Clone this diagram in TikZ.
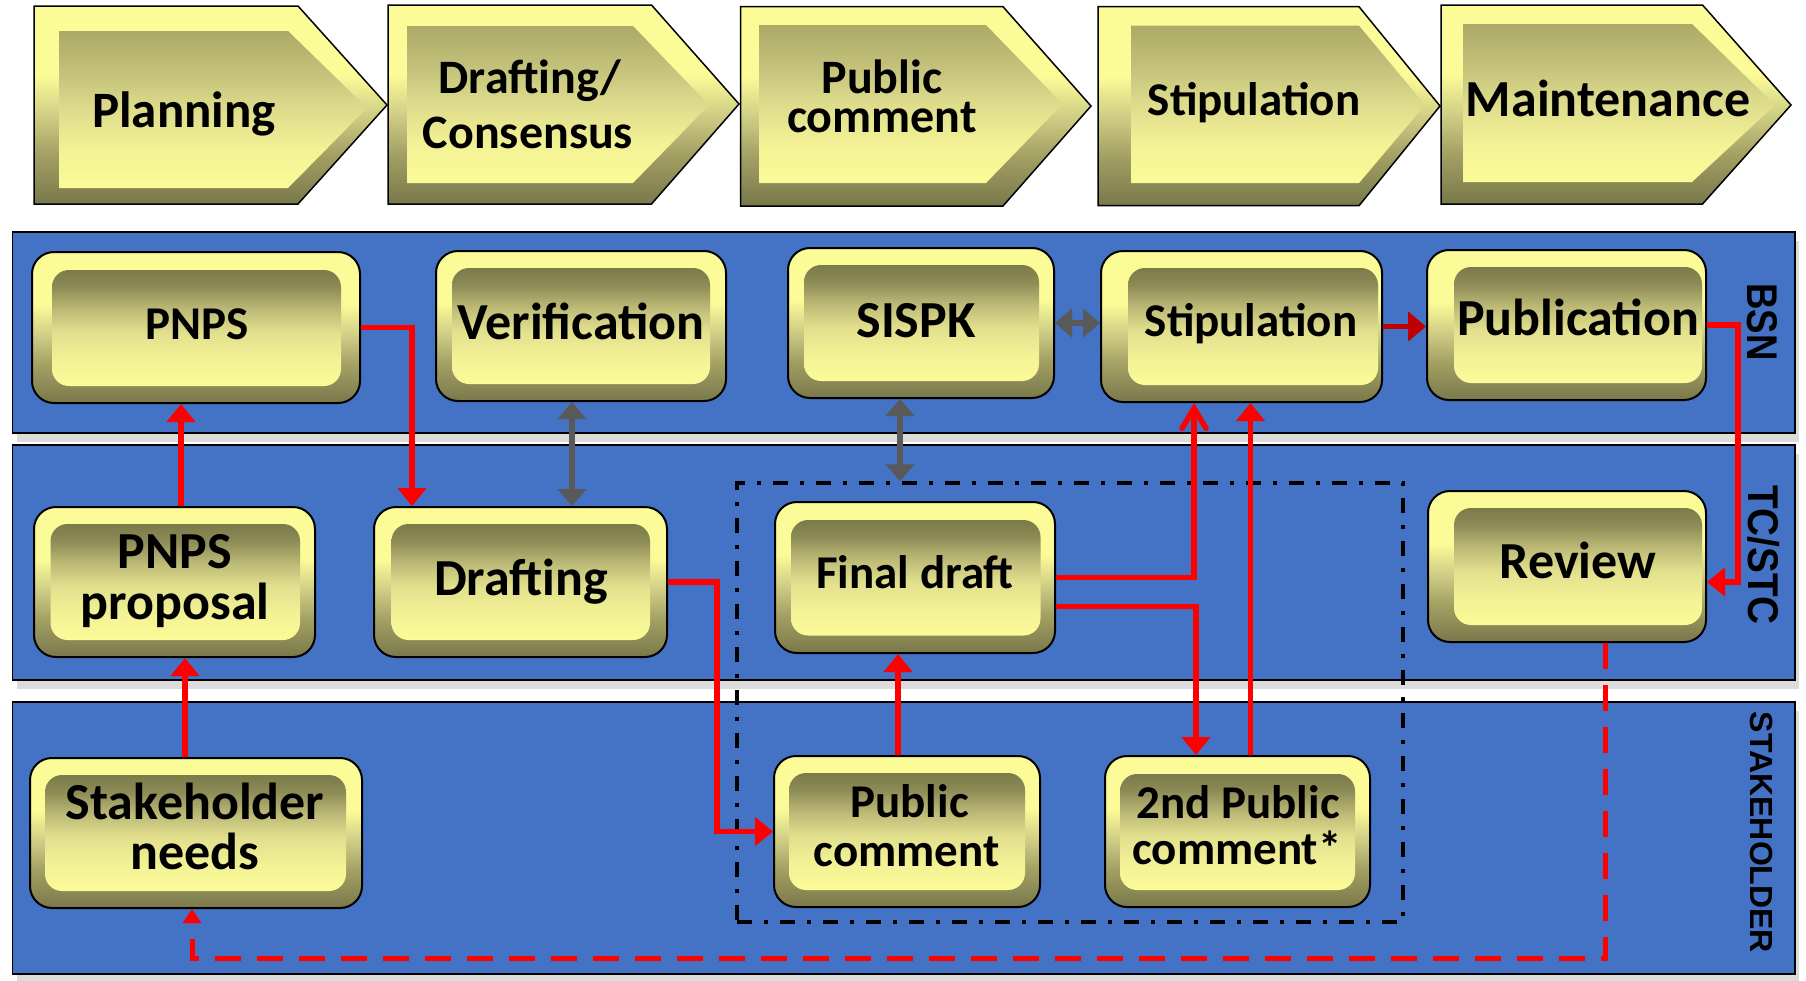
\documentclass[tikz,border=0pt]{standalone}
\usepackage{fontspec}
\setmainfont{Carlito}
\newfontfamily\lanefontA[FakeStretch=0.85]{Liberation Sans}
\newfontfamily\lanefontB[FakeStretch=0.9]{Liberation Sans}
\newfontfamily\lanefontC{Liberation Sans}
\usetikzlibrary{arrows.meta,calc}
\definecolor{laneblue}{HTML}{4472C4}
\definecolor{shadowgrey}{HTML}{DCDCDC}
\definecolor{ltY}{HTML}{FBFB98}
\definecolor{ltYb}{HTML}{F3F295}
\definecolor{midO}{HTML}{D0CE85}
\definecolor{midOb}{HTML}{A3A064}
\definecolor{dkO}{HTML}{79784A}
\definecolor{inA}{HTML}{ABAA66}
\definecolor{inB}{HTML}{C1BF79}
\definecolor{inC}{HTML}{DEDC8C}
\definecolor{bxA}{HTML}{7B7A4A}
\definecolor{bxB}{HTML}{8C8A55}
\definecolor{bxC}{HTML}{BDBA77}
\definecolor{bxD}{HTML}{E2E08E}
\definecolor{arrred}{HTML}{FF0000}
\definecolor{darkred}{HTML}{C00000}
\definecolor{arrgrey}{HTML}{595959}
\pgfdeclareverticalshading{chevout}{100bp}{color(0bp)=(dkO); color(25bp)=(dkO); color(37.5bp)=(midOb); color(47.5bp)=(midO); color(57.5bp)=(ltY); color(75bp)=(ltY); color(100bp)=(ltY)}
\pgfdeclareverticalshading{chevin}{100bp}{color(0bp)=(ltY); color(25bp)=(ltY); color(37bp)=(ltYb); color(50bp)=(inC); color(63bp)=(inB); color(75bp)=(inA); color(100bp)=(inA)}
\pgfdeclareverticalshading{boxin}{100bp}{color(0bp)=(ltY); color(25bp)=(ltY); color(36bp)=(ltYb); color(48bp)=(bxD); color(58bp)=(bxC); color(68bp)=(bxB); color(75bp)=(bxA); color(100bp)=(bxA)}
\newcommand{\mychevout}[6]{\shade[chevo] (#1,#2) -- (#4,#2) -- (#5,#6) -- (#4,#3) -- (#1,#3) -- cycle;}
\newcommand{\mychevin}[6]{\shade[chevi] (#1,#2) -- (#4,#2) -- (#5,#6) -- (#4,#3) -- (#1,#3) -- cycle;}
\newcommand{\pbox}[9]{%
  \node[boxo, minimum width=#4pt, minimum height=#5pt] (#1) at (#2,#3) {};
  \shade[boxi] (#6,#7) rectangle (#8,#9);}
\begin{document}
\begin{tikzpicture}[x=1pt,y=-1pt,
  chevo/.style={shading=chevout, draw=black, line width=1.5pt, line join=miter},
  chevi/.style={shading=chevin},
  boxo/.style={shade, shading=chevout, draw=black, line width=2pt, rounded corners=22pt, inner sep=0pt},
  boxi/.style={shading=boxin, rounded corners=17pt},
  lane/.style={fill=laneblue, draw=black, line width=1.5pt},
  laneshadow/.style={fill=shadowgrey},
  lbl/.style={anchor=base, inner sep=0pt, text=black},
  tA/.style={lbl, font=\bfseries\fontsize{47pt}{50pt}\selectfont},
  tB/.style={lbl, font=\bfseries\fontsize{48pt}{50pt}\selectfont},
  tC/.style={lbl, font=\bfseries\fontsize{51pt}{54pt}\selectfont},
  tD/.style={lbl, font=\bfseries\fontsize{52pt}{55pt}\selectfont},
  lanelbl/.style={inner sep=0pt, rotate=-90, text=black},
  grpbox/.style={draw=black, line width=3.5pt, dash pattern=on 15pt off 12pt on 4pt off 12pt, inner sep=0pt},
  rarrow/.style={draw=arrred, line width=5.5pt, -{Triangle[length=18pt,width=28pt]}},
  ropen/.style={draw=arrred, line width=5.5pt, -{Straight Barb[length=20pt,width=24pt,line cap=round]}},
  drarrow/.style={draw=darkred, line width=5.5pt, -{Triangle[length=18pt,width=29pt]}},
  garrow/.style={draw=arrgrey, line width=5.5pt, {Triangle[length=17pt,width=28pt]}-{Triangle[length=17pt,width=28pt]}},
  rdash/.style={draw=arrred, line width=5pt, dash pattern=on 26pt off 16pt, -{Triangle[length=14pt,width=18pt]}}
]
\useasboundingbox (0,0) rectangle (1806,980);
\fill[white] (0,0) rectangle (1806,980);

% ---- phase chevrons
\mychevout{34}{6}{204}{298}{387}{105}
\mychevin{59}{31}{188}{288}{367}{108}
\mychevout{388}{5}{204}{651.5}{739}{104}
\mychevin{407}{26}{183}{633}{709}{105}
\mychevout{740.5}{6.7}{206}{1003}{1091}{106}
\mychevin{759}{25}{183}{986}{1062.5}{104}
\mychevout{1098}{6.7}{205.7}{1359}{1440}{106}
\mychevin{1131}{25.7}{183}{1359}{1425}{105}
\mychevout{1441}{5}{204}{1702.5}{1791}{105}
\mychevin{1463.7}{24}{182}{1692}{1775}{105}

\node[tC] (tplan) at (184,127) {Planning};
\node[tB] (tdraftA) at (530,93.5) {Drafting/};
\node[tB] (tdraftB) at (528,148) {Consensus};
\node[tB] (tpubA) at (882,93) {Public};
\node[tB] (tpubB) at (882,132) {comment};
\node[tA] (tstip) at (1254,115) {Stipulation};
\node[tD] (tmaint) at (1608,116.7) {Maintenance};

% ---- swim lanes
\fill[laneshadow] (16.6,241) rectangle (1799,442);
\draw[lane] (12.6,232) rectangle (1795,433);
\fill[laneshadow] (16.6,454) rectangle (1799,689);
\draw[lane] (12.6,445) rectangle (1795,680);
\fill[laneshadow] (16.6,711) rectangle (1799,983);
\draw[lane] (12.6,702) rectangle (1795,974);

\node[lanelbl, font=\lanefontA\bfseries\fontsize{43pt}{45pt}\selectfont] (lbsn) at (1762.5,322) {BSN};
\node[lanelbl, font=\lanefontB\bfseries\fontsize{43pt}{45pt}\selectfont] (ltc) at (1764,555) {TC/STC};
\node[lanelbl, font=\lanefontC\bfseries\fontsize{32pt}{34pt}\selectfont] (lsh) at (1761.5,832.5) {STAKEHOLDER};

% ---- public comment group
\node[grpbox, minimum width=666pt, minimum height=439pt] (grp) at (1070,702.5) {};

% ---- process boxes
\pbox{pnps}{196}{327.5}{328}{151}{52}{270}{341}{386}
\pbox{verif}{581}{326}{290}{150}{452}{268}{710}{384}
\pbox{sispk}{921}{323}{266}{150}{804}{265}{1039}{381}
\pbox{stip}{1241.5}{326.5}{281}{151}{1128}{268}{1378}{385}
\pbox{publ}{1566.5}{325}{279}{150}{1454}{267}{1702}{383}
\pbox{pprop}{174.5}{582}{281}{150}{50.5}{524}{300}{640}
\pbox{draft}{520.5}{582}{293}{150}{391.5}{524}{650}{640}
\pbox{final}{915}{577.5}{280}{151}{791}{520}{1040.5}{635.5}
\pbox{review}{1567}{566.5}{278}{151}{1454}{508}{1702}{625}
\pbox{stk}{196}{833}{332}{150}{45}{775}{346}{891}
\pbox{pc}{907}{831.5}{266}{151}{789}{773}{1025}{890}
\pbox{pctwo}{1237.5}{831.5}{265}{151}{1120}{774}{1355}{890}

\node[tA] (tpnps) at (197,339) {PNPS};
\node[tD] (tverif) at (581,339) {Verification};
\node[tD] (tsispk) at (916,337) {SISPK};
\node[tA] (tstipb) at (1251,336.7) {Stipulation};
\node[tD] (tpubl) at (1578,335) {Publication};
\node[tD] (tppA) at (174.5,568) {PNPS};
\node[tD] (tppB) at (175,619) {proposal};
\node[tD] (tdraft) at (521,595) {Drafting};
\node[tA] (tfinal) at (915,588) {Final draft};
\node[tD] (treview) at (1578,578) {Review};
\node[tD] (tstkA) at (195,819) {Stakeholder};
\node[tD] (tstkB) at (195,869.5) {needs};
\node[tA] (tpcA) at (909.5,817) {Public};
\node[tA] (tpcB) at (906.5,866) {comment};
\node[tA] (tpc2A) at (1238,818) {2nd Public};
\node[tA] (tpc2B) at (1237,864) {comment*};

% ---- connectors
\draw[rarrow] ([xshift=-11pt]stk.north) -- ([xshift=10.5pt]pprop.south);
\draw[rarrow] ([xshift=6.5pt]pprop.north) -- ([xshift=-15pt]pnps.south);
\draw[rarrow] (pnps.east) -| ([xshift=-108.5pt]draft.north);
\draw[garrow] ([xshift=-9pt]verif.south) -- ([xshift=51.5pt]draft.north);
\coordinate (sx) at ([xshift=-21pt]sispk.south);
\draw[garrow] (sx) -- (sx |- grp.north);
\draw[garrow] (sispk.east) -- (sispk.east -| stip.west);
\draw[drarrow] (stip.east) -- (stip.east -| publ.west);
\coordinate (rv) at ([yshift=-15.5pt]review.east);
\draw[rarrow] (publ.east) -- ++(31,0) |- (rv);
\draw[rarrow] (draft.east) -- ++(49,0) |- (pc.west);
\coordinate (pcn) at ([xshift=-9pt]pc.north);
\draw[rarrow] (pcn) -- (pcn |- final.south);
\draw[ropen] (final.east) -| ([xshift=-47.5pt]stip.south);
\draw[rarrow] ([yshift=-29pt]final.east) -| ([xshift=-41.5pt]pctwo.north);
\coordinate (ptn) at ([xshift=13pt]pctwo.north);
\draw[rarrow] (ptn) -- (ptn |- stip.south);
\coordinate (rvs) at ([xshift=38pt]review.south);
\coordinate (stks) at ([xshift=-4pt]stk.south);
\coordinate (dlow) at (900,958.5);
\draw[rdash] (rvs) -- (rvs |- dlow) -- (stks |- dlow) -- (stks);
\end{tikzpicture}
\end{document}
